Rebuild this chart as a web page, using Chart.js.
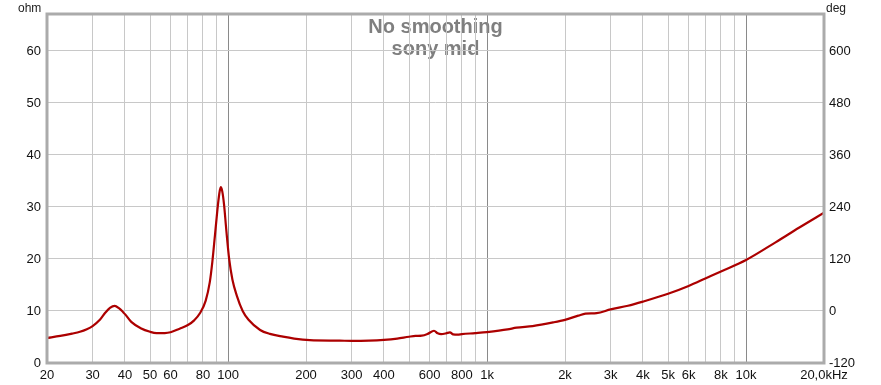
<!DOCTYPE html>
<html><head><meta charset="utf-8">
<script src="https://cdn.jsdelivr.net/npm/chart.js@4/dist/chart.umd.min.js"></script>
<style>html,body{margin:0;padding:0;background:#fff}#wrap{width:881px;height:385px}</style>
</head><body><div id="wrap"><canvas id="c" width="881" height="385"></canvas></div>
<script>
const freqHz = [20,22.5,25,26.8,28.5,30,32,33.5,35,36.5,38,39.3,40,42.3,46,50,53,57,60,65,70,74,78,82,85,87,89,91,92.5,93.7,95,96.5,98.5,101,104,108,113.9,120,133,145,163,180,207,270,300,350,400,450,500,530,560,590,624,645,665,695,719,740,770,800,900,1000,1200,1300,1500,1800,2000,2250,2400,2650,3000,3500,4000,5000,6000,7000,8000,10000,13000,16000,20000];
const impedanceOhm = [4.8,5.2,5.65,6.0,6.5,7.1,8.3,9.6,10.6,11.0,10.5,9.8,9.4,7.9,6.7,6.0,5.75,5.75,5.9,6.6,7.3,8.2,9.6,12.0,15.5,19.5,24.5,29.5,32.5,33.8,33.0,30.5,25.5,20,16,13.0,10.0,8.3,6.35,5.6,5.06,4.7,4.4,4.3,4.25,4.3,4.45,4.7,5.05,5.2,5.25,5.6,6.2,5.7,5.55,5.7,5.9,5.5,5.45,5.55,5.75,5.95,6.45,6.8,7.1,7.8,8.3,9.1,9.5,9.6,10.3,11.0,11.8,13.3,14.8,16.3,17.6,19.8,23.2,26.0,28.9];
const xGridHz = [20,30,40,50,60,70,80,90,100,200,300,400,500,600,700,800,900,1000,2000,3000,4000,5000,6000,7000,8000,9000,10000,20000];
const xTickLabels = {20:'20',30:'30',40:'40',50:'50',60:'60',80:'80',100:'100',200:'200',300:'300',400:'400',600:'600',800:'800',1000:'1k',2000:'2k',3000:'3k',4000:'4k',5000:'5k',6000:'6k',8000:'8k',10000:'10k',20000:'20,0kHz'};
const majorHz = [100,1000,10000];
const titleLines = ['No smoothing','sony mid'];

const FONT = "'Liberation Sans', Arial, sans-serif";
const bgText = {
  id:'bgText',
  beforeDraw(chart){
    const {ctx, chartArea:a} = chart;
    ctx.save();
    ctx.fillStyle='#fff'; ctx.fillRect(0,0,chart.width,chart.height);
    ctx.fillStyle='#7f7f7f'; ctx.font="bold 20px "+FONT; ctx.textAlign='center'; ctx.textBaseline='alphabetic';
    const cx=(a.left+a.right)/2;
    ctx.fillText(titleLines[0], cx, 33);
    ctx.fillText(titleLines[1], cx, 55);
    ctx.restore();
  },
  afterDraw(chart){
    const {ctx, chartArea:a} = chart;
    ctx.save();
    ctx.strokeStyle='#ababab'; ctx.lineWidth=3;
    ctx.strokeRect(a.left, a.top, a.right-a.left, a.bottom-a.top);
    ctx.fillStyle='#222'; ctx.font="12px "+FONT; ctx.textBaseline='alphabetic';
    ctx.textAlign='left'; ctx.fillText('ohm', 18, 12);
    ctx.fillText('deg', 826, 12);
    ctx.restore();
  }
};

new Chart(document.getElementById('c'), {
  type:'line',
  data:{datasets:[{
    data: freqHz.map((f,i)=>({x:f,y:impedanceOhm[i]})),
    borderColor:'#ac0000', borderWidth:2.2, pointRadius:0, cubicInterpolationMode:'monotone', fill:false, yAxisID:'y', xAxisID:'x'
  }]},
  plugins:[bgText],
  options:{
    responsive:false, animation:false,
    layout:{padding:{top:14,left:0,right:0,bottom:0}},
    plugins:{legend:{display:false}, tooltip:{enabled:false}},
    scales:{
      x:{type:'logarithmic', min:20, max:20000,
        afterBuildTicks(s){ s.ticks = xGridHz.map(v=>({value:v})); },
        afterFit(s){ s.height = 22; },
        border:{display:false},
        grid:{drawTicks:false, color:(c)=> majorHz.includes(c.tick && c.tick.value) ? '#8a8a8a' : '#c8c8c8', lineWidth:1},
        ticks:{autoSkip:false, maxRotation:0, padding:5, color:'#111', font:{family:FONT,size:13},
          callback:(v)=> xTickLabels[v] || ''}
      },
      y:{type:'linear', position:'left', min:0, max:67.1,
        afterBuildTicks(s){ s.ticks=[0,10,20,30,40,50,60].map(v=>({value:v})); },
        afterFit(s){ s.width = 47; },
        border:{display:false},
        grid:{drawTicks:false, color:'#c8c8c8'},
        ticks:{padding:6, color:'#111', font:{family:FONT,size:13}}
      },
      y2:{type:'linear', position:'right', min:-120, max:685.2,
        afterBuildTicks(s){ s.ticks=[-120,0,120,240,360,480,600].map(v=>({value:v})); },
        afterFit(s){ s.width = 57; },
        border:{display:false},
        grid:{drawOnChartArea:false, drawTicks:false},
        ticks:{padding:5, color:'#111', font:{family:FONT,size:13}}
      }
    }
  }
});
</script></body></html>
